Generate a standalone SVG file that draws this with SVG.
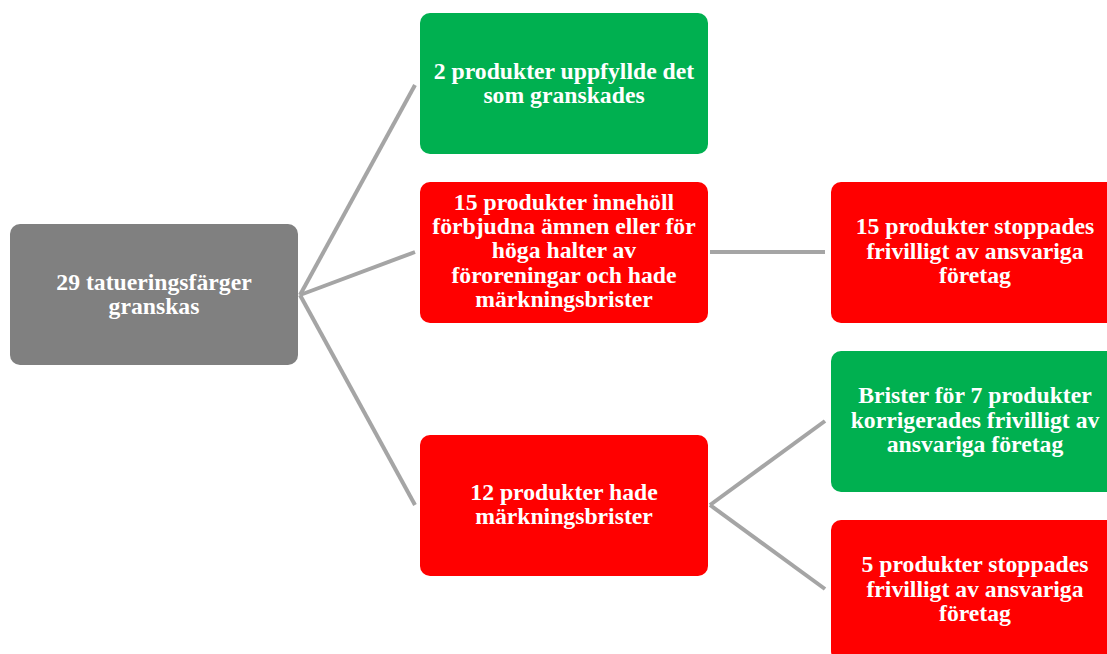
<svg xmlns="http://www.w3.org/2000/svg" width="1107" height="654" viewBox="0 0 1107 654">
<style>
.box{stroke:none}
.g{fill:#808080}
.gr{fill:#00B050}
.r{fill:#FF0000}
.t{font-family:"Liberation Serif","Times New Roman",serif;font-weight:bold;font-size:23.7px;fill:#FFFFFF;text-anchor:middle}
.c{stroke:#A5A5A5;stroke-width:4;fill:none}
</style>
<rect width="1107" height="654" fill="#FFFFFF"/>
<g id="connectors">
<line class="c" x1="300" y1="295" x2="415" y2="85"/>
<line class="c" x1="300" y1="295" x2="415" y2="252"/>
<line class="c" x1="300" y1="295" x2="415" y2="505"/>
<line class="c" x1="710" y1="252" x2="825" y2="252"/>
<line class="c" x1="710" y1="505" x2="825" y2="421"/>
<line class="c" x1="710" y1="505" x2="825" y2="589"/>
</g>
<g id="root">
<rect class="box g" x="10" y="224" width="288" height="141" rx="10"/>
<text class="t" x="154" y="290">29 tatueringsfärger</text>
<text class="t" x="154" y="314">granskas</text>
</g>
<g id="ok">
<rect class="box gr" x="420" y="13" width="288" height="141" rx="10"/>
<text class="t" x="564" y="79">2 produkter uppfyllde det</text>
<text class="t" x="564" y="103">som granskades</text>
</g>
<g id="forbidden">
<rect class="box r" x="420" y="182" width="288" height="141" rx="10"/>
<text class="t" x="564" y="210">15 produkter innehöll</text>
<text class="t" x="564" y="234">förbjudna ämnen eller för</text>
<text class="t" x="564" y="258">höga halter av</text>
<text class="t" x="564" y="283">föroreningar och hade</text>
<text class="t" x="564" y="307">märkningsbrister</text>
</g>
<g id="labeling">
<rect class="box r" x="420" y="435" width="288" height="141" rx="10"/>
<text class="t" x="564" y="500">12 produkter hade</text>
<text class="t" x="564" y="524">märkningsbrister</text>
</g>
<g id="stopped15">
<rect class="box r" x="831" y="182" width="288" height="141" rx="10"/>
<text class="t" x="975" y="234">15 produkter stoppades</text>
<text class="t" x="975" y="259">frivilligt av ansvariga</text>
<text class="t" x="975" y="283">företag</text>
</g>
<g id="corrected7">
<rect class="box gr" x="831" y="351" width="288" height="141" rx="10"/>
<text class="t" x="975" y="403">Brister för 7 produkter</text>
<text class="t" x="975" y="428">korrigerades frivilligt av</text>
<text class="t" x="975" y="452">ansvariga företag</text>
</g>
<g id="stopped5">
<rect class="box r" x="831" y="520" width="288" height="141" rx="10"/>
<text class="t" x="975" y="572">5 produkter stoppades</text>
<text class="t" x="975" y="597">frivilligt av ansvariga</text>
<text class="t" x="975" y="621">företag</text>
</g>
</svg>
